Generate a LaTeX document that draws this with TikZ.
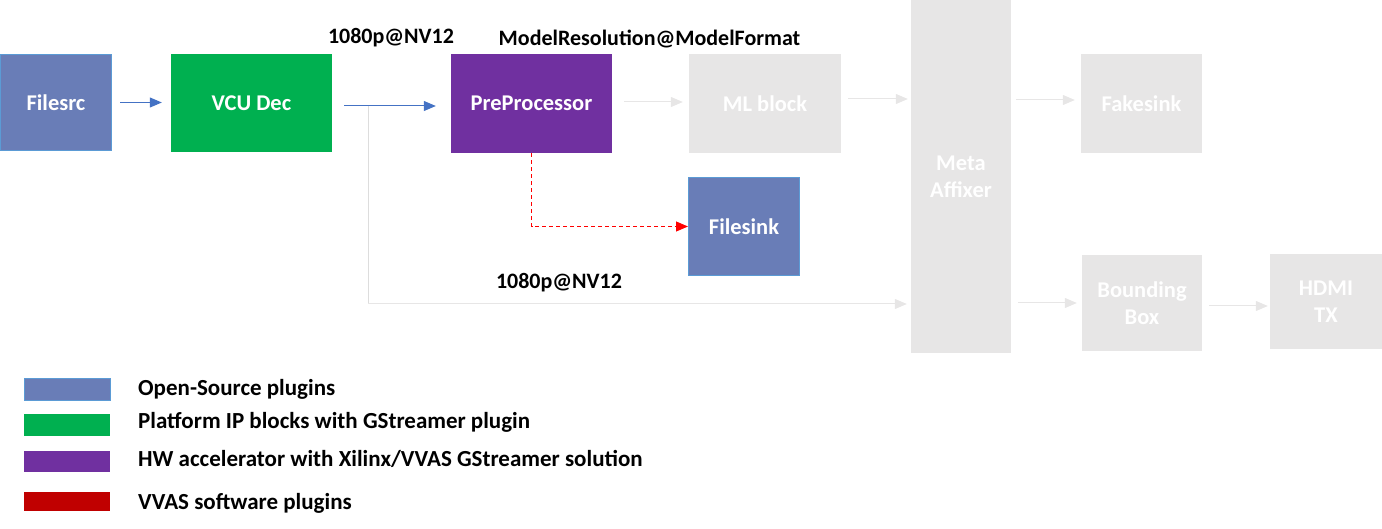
\documentclass[tikz,border=0pt]{standalone}
\usepackage{fontspec}
\setmainfont{Carlito}
\usetikzlibrary{arrows.meta,calc}
\definecolor{osblue}{HTML}{697DB7}
\definecolor{osedge}{HTML}{5B9BD5}
\definecolor{ipgreen}{HTML}{00B050}
\definecolor{hwpurple}{HTML}{7030A0}
\definecolor{swred}{HTML}{C00000}
\definecolor{inactive}{HTML}{E7E6E6}
\definecolor{arrowblue}{HTML}{4472C4}
\definecolor{faintline}{HTML}{DDDDDD}
\tikzset{
  blk/.style={rectangle, inner sep=0pt, text=white, font=\fontsize{22.5}{27}\selectfont\bfseries, align=center},
  osblk/.style={blk, fill=osblue, draw=osedge, line width=1pt},
  ipblk/.style={blk, fill=ipgreen},
  hwblk/.style={blk, fill=hwpurple},
  offblk/.style={blk, fill=inactive},
  tip/.style={-{Triangle[length=12pt,width=10pt]}},
  bluearrow/.style={tip, draw=arrowblue, line width=1pt},
  grayarrow/.style={tip, draw=inactive, line width=1pt},
  grayline/.style={draw=faintline, line width=1pt},
  redarrow/.style={tip, draw=red, line width=1pt, dash pattern=on 4pt off 3pt},
  lbl/.style={font=\fontsize{22}{26}\selectfont\bfseries, text=black, inner sep=0pt},
  legtext/.style={font=\fontsize{23}{27}\selectfont\bfseries, text=black, inner sep=0pt, anchor=base west},
  swatch/.style={rectangle, inner sep=0pt, minimum width=86pt}
}
\begin{document}
\begin{tikzpicture}[x=1pt,y=-1pt]
\useasboundingbox (0,0) rectangle (1382,529);
% blocks
\node[osblk, minimum width=111pt, minimum height=96pt] (filesrc) at (56,102.5) {Filesrc};
\node[ipblk, minimum width=161pt, minimum height=98pt] (vcu) at (251.5,103) {VCU Dec};
\node[hwblk, minimum width=161pt, minimum height=99pt] (pre) at (531.5,103.5) {PreProcessor};
\node[offblk, minimum width=152pt, minimum height=99pt] (ml) at (765,103.5) {ML block};
\node[offblk, minimum width=100pt, minimum height=353pt] (meta) at (961,176.5) {Meta\\Affixer};
\node[offblk, minimum width=121pt, minimum height=99pt] (fake) at (1141.5,103.5) {Fakesink};
\node[osblk, minimum width=111pt, minimum height=98pt] (filesink) at (744,226.5) {Filesink};
\node[offblk, minimum width=120pt, minimum height=96pt] (bbox) at (1142,303) {Bounding\\Box};
\node[offblk, minimum width=112pt, minimum height=95pt] (hdmi) at (1326,301.5) {HDMI\\TX};
% labels
\node[lbl] (l1) at (391,38) {1080p@NV12};
\node[lbl] (l2) at (649.5,39) {ModelResolution@ModelFormat};
\node[lbl] (l3) at (559,283) {1080p@NV12};
% connectors
\draw[bluearrow, shorten <=8pt, shorten >=9pt] (filesrc.east) -- (vcu.west |- filesrc.east);
\draw[bluearrow, shorten <=12pt, shorten >=15pt] ($(vcu.east)+(0,3)$) -- ($(pre.west)+(0,2.5)$);
\coordinate (br) at (368,106);
\draw[grayline] (br) -- (368,304) coordinate (bc);
\draw[grayarrow, shorten >=4pt] (bc) -- (meta.west |- bc);
\draw[grayarrow, shorten <=12pt, shorten >=6pt] ($(pre.east)+(0,-1.5)$) -- ($(ml.west)+(0,-1.5)$);
\draw[grayarrow, shorten <=7pt, shorten >=3pt] ($(ml.east)+(0,-4.5)$) -- (meta.west |- 0,99);
\draw[grayarrow, shorten <=5pt, shorten >=6pt] (meta.east |- 0,100) -- (fake.west |- 0,100);
\draw[grayarrow, shorten <=7pt, shorten >=5pt] (meta.east |- 0,303) -- (bbox.west);
\draw[grayarrow, shorten <=7pt, shorten >=2pt] (bbox.east |- 0,306) -- (hdmi.west |- 0,306);
\draw[redarrow] (pre.south) |- (filesink.west);
% legend
\node[swatch, fill=osblue, draw=osedge, line width=1pt, minimum height=22pt] (s1) at (67,389.5) {};
\node[swatch, fill=ipgreen, minimum height=22pt] (s2) at (67,425) {};
\node[swatch, fill=hwpurple, minimum height=21pt] (s3) at (67,461.5) {};
\node[swatch, fill=swred, minimum height=19pt] (s4) at (67,501.5) {};
\node[legtext] (t1) at (138,395.5) {Open-Source plugins};
\node[legtext] (t2) at (138,428.5) {Platform IP blocks with GStreamer plugin};
\node[legtext] (t3) at (138,466.5) {HW accelerator with Xilinx/VVAS GStreamer solution};
\node[legtext] (t4) at (138,509) {VVAS software plugins};
\end{tikzpicture}
\end{document}
